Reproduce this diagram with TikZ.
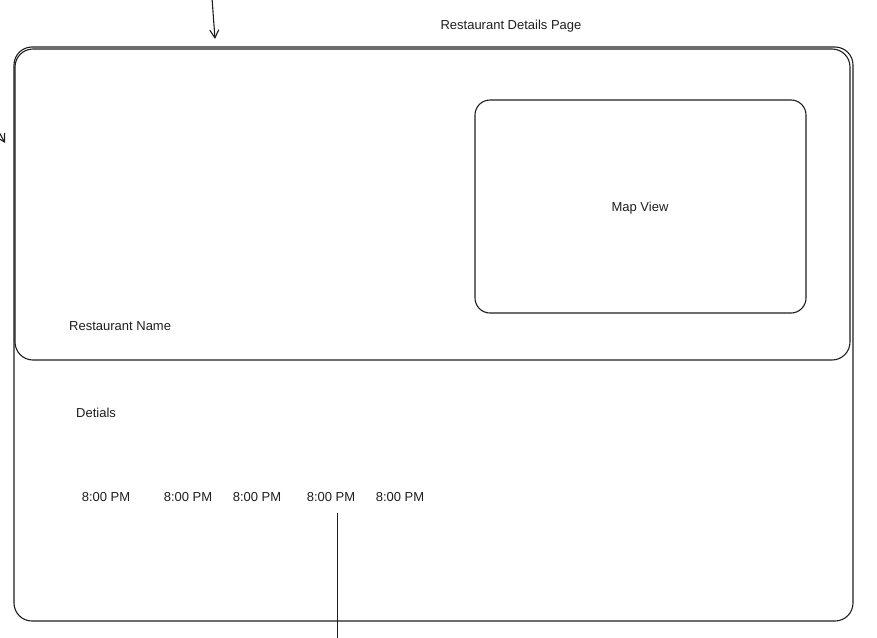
\documentclass[tikz,border=0pt]{standalone}
\usepackage{fontspec}
\setmainfont{Liberation Sans}
\usetikzlibrary{arrows.meta}
\definecolor{ink}{HTML}{1E1E1E}
\begin{document}
\begin{tikzpicture}[x=1pt,y=-1pt,
  box/.style={draw=ink,line width=1.1pt,rounded corners=16pt},
  lbl/.style={text=ink,font=\fontsize{13}{15}\selectfont,inner sep=0pt},
  conn/.style={draw=ink,line width=1.1pt},
  arr/.style={conn,-{Straight Barb[length=8pt,width=9pt]}}]
\useasboundingbox (0,0) rectangle (877,637);
\draw[box,rounded corners=18pt] (14,47) rectangle (853,621);
\draw[box,rounded corners=18pt] (15,49) rectangle (850,360);
\node[box,rounded corners=15pt,minimum width=331pt,minimum height=213pt,inner sep=0pt] (map) at (640.5,206.5) {};
\node[lbl] (mapv) at (640,208) {Map View};
\node[lbl] (title) at (511,26) {Restaurant Details Page};
\node[lbl,anchor=west] (rname) at (69,326) {Restaurant Name};
\node[lbl,anchor=west] (det) at (76,413) {Detials};
\node[lbl] (t1) at (106,497) {8:00 PM};
\node[lbl] (t2) at (188,497) {8:00 PM};
\node[lbl] (t3) at (257,497) {8:00 PM};
\node[lbl] (t4) at (331,497) {8:00 PM};
\node[lbl] (t5) at (400,497) {8:00 PM};
\coordinate (a1) at (212,-2);
\coordinate (a2) at (215,39);
\coordinate (b1) at (-12,112);
\coordinate (b2) at (5,143);
\coordinate (c1) at (337.5,513);
\coordinate (c2) at (337.5,640);
\draw[arr] (a1) -- (a2);
\draw[arr] (b1) -- (b2);
\draw[conn] (c1) -- (c2);
\end{tikzpicture}
\end{document}
